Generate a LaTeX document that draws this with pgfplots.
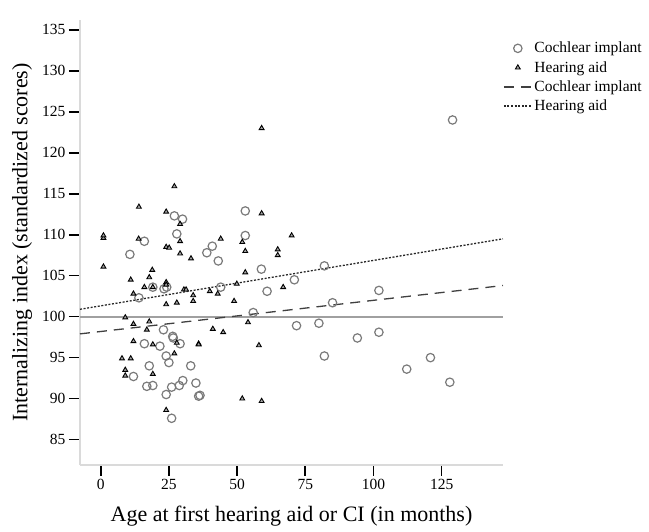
\documentclass[border=0pt]{standalone}
\usepackage{pgfplots}
\pgfplotsset{compat=1.18}
\usepackage{fontspec}
\setmainfont{Liberation Serif}

\definecolor{cigray}{HTML}{7A7A7A}
\definecolor{axgray}{HTML}{DADADA}
\definecolor{refgray}{HTML}{A0A0A0}

\pgfplotsset{
  marklegend/.style={legend image code/.code={\draw[mark repeat=2,mark phase=2,##1] plot coordinates {(0pt,0pt)(14pt,0pt)(28pt,0pt)};}},
  linelegend/.style={legend image code/.code={\draw[##1] (0pt,0pt) -- (28pt,0pt);}},
}

\begin{document}
\begin{tikzpicture}
\useasboundingbox (-80pt,-67pt) rectangle (569pt,465pt);
\begin{axis}[
  at={(0,0)}, anchor=south west,
  scale only axis,
  width=423pt, height=445pt,
  xmin=-7.6, xmax=147.5,
  ymin=81.9, ymax=136.2,
  xtick={0,25,...,125},
  ytick={85,90,...,135},
  axis x line*=bottom, axis y line*=left,
  axis line style={draw=axgray, line width=1.3pt, -},
  tick align=outside, xtick pos=bottom, ytick pos=left,
  major tick length=11pt,
  tick style={draw=black, line width=1.6pt},
  tick label style={font=\fontsize{15.5}{17}\selectfont},
  /pgf/number format/assume math mode=true,
  xlabel={Age at first hearing aid or CI (in months)},
  ylabel={Internalizing index (standardized scores)},
  label style={font=\fontsize{22}{24}\selectfont},
  xlabel style={at={(axis description cs:0.5,-0.115)}, anchor=center},
  ylabel style={at={(axis description cs:-0.137,0.5)}, anchor=center},
  clip=false,
  legend style={draw=none, fill=none, at={(axis description cs:1.0,0.955)}, anchor=north west,
    font=\fontsize{15.5}{17}\selectfont, row sep=3pt, inner sep=0pt,
    /tikz/every even column/.append style={column sep=2pt}},
  legend cell align=left,
]
% cochlear implant
\addplot[only marks, mark=o, mark size=4.2pt, cigray, line width=1.2pt, marklegend]
coordinates {
(27.0,112.3)(30.0,111.9)(27.9,110.1)(16.0,109.2)(38.9,107.8)(10.7,107.6)(19.1,103.6)(23.2,103.4)(24.2,103.6)(14.0,102.3)
(53.0,112.9)(53.0,109.9)(40.9,108.6)(43.1,106.8)(58.9,105.8)(82.0,106.2)(71.0,104.5)(44.0,103.6)(61.0,103.1)(85.0,101.7)(55.9,100.5)
(129.0,124.0)(102.0,103.2)
(94.1,97.4)(102.0,98.1)(112.2,93.6)(120.9,95.0)(128.0,92.0)
(71.8,98.9)(80.0,99.2)(82.0,95.2)(36.4,90.4)
(23.0,98.4)(26.4,97.6)(26.6,97.4)(29.1,96.7)(16.0,96.7)(21.7,96.4)(24.0,95.2)(25.0,94.4)(17.8,94.0)(33.0,94.0)
(12.0,92.7)(16.9,91.5)(19.1,91.6)(30.1,92.2)(28.8,91.6)(26.0,91.4)(34.9,91.9)(24.0,90.5)(35.9,90.3)(26.0,87.6)
};
\addlegendentry{Cochlear implant}
% hearing aid
\addplot[only marks, mark=triangle*, mark size=2.8pt, black, line width=0.9pt,
  mark options={fill=black!35}, marklegend]
coordinates {
(27.0,115.9)(14.0,113.4)(24.0,112.8)(29.1,111.3)(1.0,109.6)(1.0,109.9)(13.9,109.5)(29.1,109.2)(24.0,108.5)(25.1,108.4)
(29.1,107.7)(33.1,107.1)(1.0,106.1)(18.9,105.7)(17.8,104.8)(11.0,104.5)(24.0,104.2)(24.0,103.9)(16.0,103.6)(19.1,103.6)
(12.0,102.8)(30.5,103.3)(31.3,103.3)(33.9,102.6)(33.9,101.9)(24.0,101.5)(27.9,101.7)(9.0,99.9)
(59.0,112.6)(44.0,109.5)(51.9,109.1)(70.0,109.9)(53.0,108.0)(64.9,108.2)(64.9,107.5)(53.0,105.4)(49.9,104.0)
(40.0,103.1)(42.9,102.8)(66.9,103.6)(48.9,101.9)
(59.0,123.0)
(41.1,98.5)(44.9,98.1)(54.0,99.3)(58.0,96.5)(51.9,90.0)(59.0,89.7)
(12.0,99.1)(17.8,99.4)(16.9,98.4)(12.0,97.0)(19.1,96.6)(27.9,96.8)(27.0,95.5)(35.9,96.7)(35.9,96.6)
(7.8,94.9)(11.0,94.9)(9.0,93.5)(9.0,92.8)(19.1,93.0)(24.0,88.6)
};
\addlegendentry{Hearing aid}
% reference line at 100
\addplot[refgray, line width=2pt, forget plot] coordinates {(-7.6,100) (147.5,100)};
% fit lines
\addplot[black!75, line width=1.3pt, dash pattern=on 10pt off 7pt, linelegend]
coordinates {(-7.6,97.9) (147.5,103.8)};
\addlegendentry{Cochlear implant}
\addplot[black!85, line width=1.3pt, dash pattern=on 2pt off 1.6pt, linelegend]
coordinates {(-7.6,100.9) (147.5,109.5)};
\addlegendentry{Hearing aid}
\end{axis}
\end{tikzpicture}
\end{document}
